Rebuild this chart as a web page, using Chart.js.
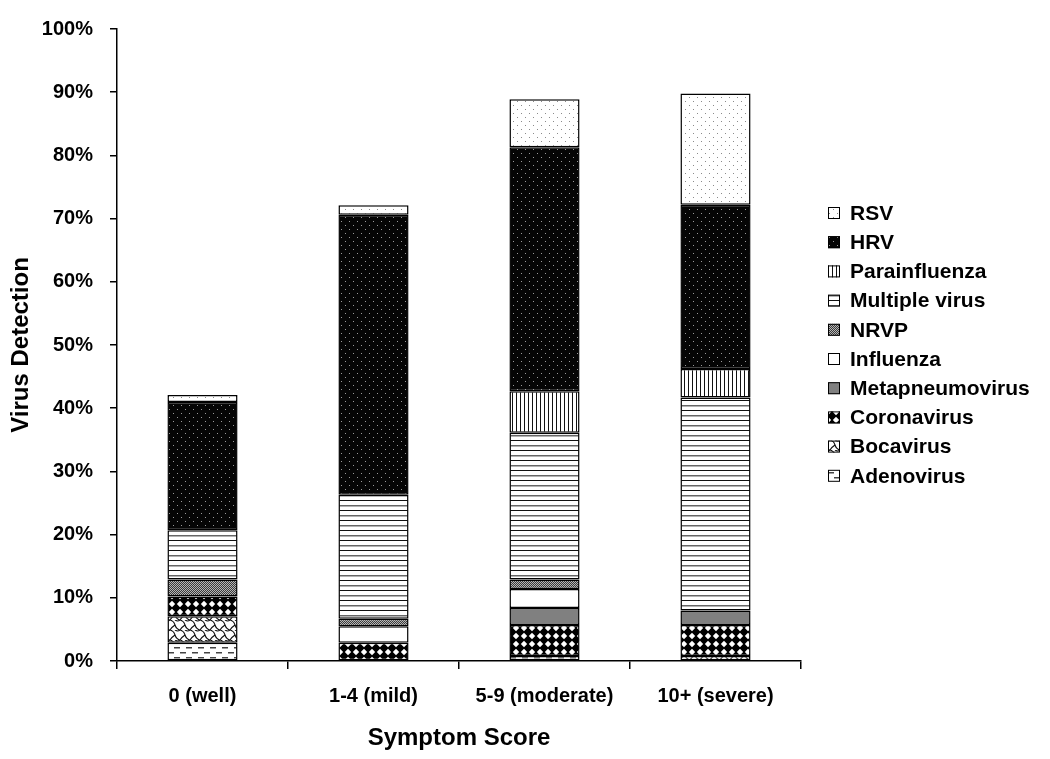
<!DOCTYPE html>
<html>
<head>
<meta charset="utf-8">
<script src="https://cdn.jsdelivr.net/npm/chart.js@4.4.1/dist/chart.umd.min.js"></script>
<style>
  html, body { margin: 0; padding: 0; background: #fff; }
  #wrap { width: 1050px; height: 759px; }
</style>
</head>
<body>
<div id="wrap"><canvas id="virusChart" width="1050" height="759"></canvas></div>
<script>
// categories and values (percent of children with virus detected)
const categories = ['0 (well)', '1-4 (mild)', '5-9 (moderate)', '10+ (severe)'];

const adenovirus      = [2.9, 0,    0.8,  0];
const bocavirus       = [4.2, 0,    0,    0.8];
const coronavirus     = [3.1, 2.9,  4.9,  4.9];
const metapneumovirus = [0,   0,    2.7,  2.3];
const influenza       = [0,   2.6,  3.0,  0];
const nrvp            = [2.7, 1.2,  1.5,  0];
const multipleVirus   = [7.8, 19.6, 23.2, 33.7];
const parainfluenza   = [0,   0,    6.6,  4.5];
const hrv             = [20.3, 44.3, 38.6, 26.0];
const rsv             = [1.1, 1.5,  7.6,  17.6];

const yTicks = [0, 10, 20, 30, 40, 50, 60, 70, 80, 90, 100];

// little helper to build fill patterns
function makePattern(w, h, draw) {
  const c = document.createElement('canvas');
  c.width = w; c.height = h;
  const g = c.getContext('2d');
  draw(g, w, h);
  return g.createPattern(c, 'repeat');
}

const patterns = {
  rsv: makePattern(8, 8, (g, w, h) => {
    g.fillStyle = '#fff'; g.fillRect(0, 0, w, h);
    g.fillStyle = '#8a8a8a';
    g.fillRect(1, 1, 1, 1); g.fillRect(5, 5, 1, 1);
  }),
  hrv: makePattern(8, 8, (g, w, h) => {
    g.fillStyle = '#050505'; g.fillRect(0, 0, w, h);
    g.fillStyle = '#9a9a9a';
    g.fillRect(1, 1, 1, 1); g.fillRect(5, 5, 1, 1);
  }),
  para: makePattern(4, 4, (g, w, h) => {
    g.fillStyle = '#fff'; g.fillRect(0, 0, w, h);
    g.fillStyle = '#111'; g.fillRect(0, 0, 1, h);
  }),
  multiple: makePattern(4, 10, (g, w, h) => {
    g.fillStyle = '#fff'; g.fillRect(0, 0, w, h);
    g.fillStyle = '#111'; g.fillRect(0, 0, w, 1);
    g.fillStyle = '#666'; g.fillRect(0, 5, w, 1.5);
  }),
  nrvp: makePattern(2, 2, (g) => {
    g.fillStyle = '#3a3a3a'; g.fillRect(0, 0, 2, 2);
    g.fillStyle = '#b5b5b5'; g.fillRect(0, 0, 1, 1); g.fillRect(1, 1, 1, 1);
  }),
  influenza: '#ffffff',
  metapneumo: '#808080',
  corona: makePattern(8, 8, (g, w, h) => {
    g.fillStyle = '#000'; g.fillRect(0, 0, w, h);
    g.fillStyle = '#fff';
    g.beginPath();
    g.moveTo(4, 0.8); g.lineTo(7.2, 4); g.lineTo(4, 7.2); g.lineTo(0.8, 4);
    g.closePath(); g.fill();
  }),
  boca: makePattern(10, 10, (g, w, h) => {
    g.fillStyle = '#fff'; g.fillRect(0, 0, w, h);
    g.strokeStyle = '#111'; g.lineWidth = 1.2;
    g.beginPath();
    g.moveTo(0, 0); g.quadraticCurveTo(4, 1, 5, 5); g.quadraticCurveTo(6, 9, 10, 10);
    g.moveTo(5, 0); g.quadraticCurveTo(8, 2, 10, 0);
    g.moveTo(0, 10); g.quadraticCurveTo(2, 7, 5, 5);
    g.stroke();
  }),
  adeno: makePattern(12, 10, (g, w, h) => {
    g.fillStyle = '#fff'; g.fillRect(0, 0, w, h);
    g.fillStyle = '#444';
    g.fillRect(0, 2, 6, 1.5);
    g.fillRect(6, 7, 6, 1.5);
  })
};

// stacking order bottom -> top
const series = [
  { label: 'Adenovirus', data: adenovirus, fill: patterns.adeno },
  { label: 'Bocavirus', data: bocavirus, fill: patterns.boca },
  { label: 'Coronavirus', data: coronavirus, fill: patterns.corona },
  { label: 'Metapneumovirus', data: metapneumovirus, fill: patterns.metapneumo },
  { label: 'Influenza', data: influenza, fill: patterns.influenza },
  { label: 'NRVP', data: nrvp, fill: patterns.nrvp },
  { label: 'Multiple virus', data: multipleVirus, fill: patterns.multiple },
  { label: 'Parainfluenza', data: parainfluenza, fill: patterns.para },
  { label: 'HRV', data: hrv, fill: patterns.hrv },
  { label: 'RSV', data: rsv, fill: patterns.rsv }
];

const FONT = 'Liberation Sans, Arial, sans-serif';
Chart.defaults.font.family = FONT;
Chart.defaults.font.weight = 'bold';
Chart.defaults.color = '#000';

// legend drawn by hand so it sits exactly where the original puts it
const sideLegend = {
  id: 'sideLegend',
  afterDraw(chart) {
    const ctx = chart.ctx;
    const items = chart.data.datasets.slice().reverse();
    ctx.save();
    ctx.font = 'bold 21px ' + FONT;
    ctx.textBaseline = 'middle';
    ctx.textAlign = 'left';
    items.forEach((ds, i) => {
      const y = 213 + i * 29.2;
      ctx.fillStyle = ds.backgroundColor;
      ctx.fillRect(828, y - 6, 12, 12);
      ctx.strokeStyle = '#000';
      ctx.lineWidth = 1;
      ctx.strokeRect(828.5, y - 5.5, 11, 11);
      ctx.fillStyle = '#000';
      ctx.fillText(ds.label, 850, y + 1);
    });
    ctx.restore();
  }
};

const ctx = document.getElementById('virusChart');
new Chart(ctx, {
  type: 'bar',
  data: {
    labels: categories,
    datasets: series.map(s => ({
      label: s.label,
      data: s.data.map(v => (v === 0 ? null : v)),
      backgroundColor: s.fill,
      borderColor: '#000',
      borderWidth: 1.5,
      borderSkipped: false,
      barPercentage: 0.41,
      categoryPercentage: 1
    }))
  },
  options: {
    responsive: false,
    animation: false,
    layout: { padding: { top: 25, right: 249, left: 0, bottom: 0 } },
    plugins: {
      legend: { display: false },
      tooltip: { enabled: false }
    },
    scales: {
      x: {
        stacked: true,
        grid: {
          offset: true,
          drawOnChartArea: false,
          drawTicks: true,
          tickLength: 8,
          color: '#000',
          lineWidth: 1.5
        },
        border: { color: '#000', width: 1.5 },
        ticks: { font: { size: 20, weight: 'bold' }, padding: 15, color: '#000' },
        title: {
          display: true,
          text: 'Symptom Score',
          font: { size: 24, weight: 'bold' },
          color: '#000',
          padding: { top: 0, bottom: 6 }
        },
        afterFit: s => { s.height = 98; }
      },
      y: {
        stacked: true,
        min: 0,
        max: 100,
        afterBuildTicks: s => { s.ticks = yTicks.map(v => ({ value: v })); },
        grid: {
          drawOnChartArea: false,
          drawTicks: true,
          tickLength: 7,
          color: '#000',
          lineWidth: 1.5
        },
        border: { color: '#000', width: 1.5 },
        ticks: {
          font: { size: 20, weight: 'bold' },
          padding: 17,
          color: '#000',
          callback: v => v + '%'
        },
        title: {
          display: true,
          text: 'Virus Detection',
          font: { size: 24, weight: 'bold' },
          color: '#000',
          padding: { top: 7, bottom: 0 }
        },
        afterFit: s => { s.width = 117; }
      }
    }
  },
  plugins: [sideLegend]
});
</script>
</body>
</html>
